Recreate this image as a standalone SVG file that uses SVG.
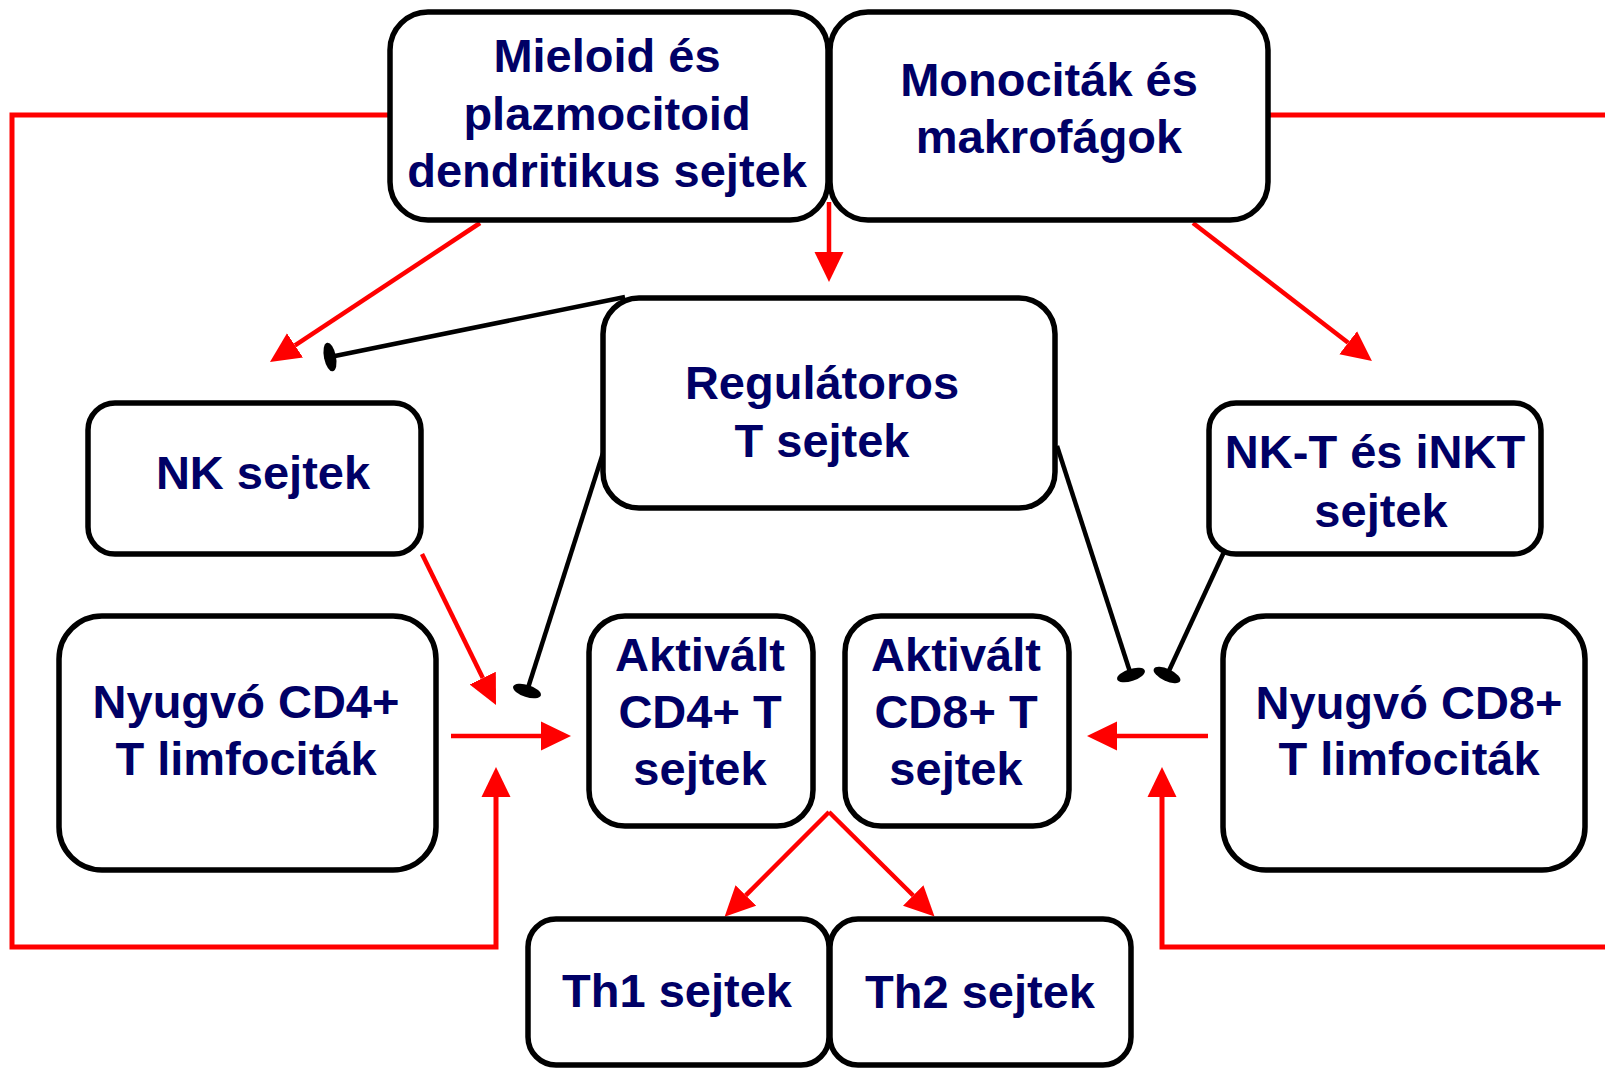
<svg xmlns="http://www.w3.org/2000/svg" width="1605" height="1068" viewBox="0 0 1605 1068">
<style>
.box{fill:#ffffff;stroke:#000000;stroke-width:5.5}
.t{font-family:"Liberation Sans",Arial,sans-serif;font-weight:bold;font-size:47px;fill:#000066;text-anchor:middle}
.red{fill:none;stroke:#ff0000;stroke-width:5}
.redA{fill:none;stroke:#ff0000;stroke-width:4.5;marker-end:url(#arr)}
.inh{fill:none;stroke:#000000;stroke-width:4.5;marker-end:url(#bar)}
</style>
<defs>
<marker id="arr" markerUnits="userSpaceOnUse" markerWidth="32" markerHeight="30" viewBox="0 -15 32 30" refX="0" refY="0" orient="auto">
<path d="M0,-14.5 L30,0 L0,14.5 Z" fill="#ff0000"/>
</marker>
<marker id="bar" markerUnits="userSpaceOnUse" markerWidth="14" markerHeight="30" viewBox="-7 -15 14 30" refX="0" refY="0" orient="auto">
<ellipse cx="0" cy="0" rx="6" ry="14.5" fill="#000000"/>
</marker>
</defs>
<g id="connectors">
<path class="red" d="M390,115 H12 V947 H496 V797"/>
<path d="M481.5,797 L496,767 L510.5,797 Z" fill="#ff0000"/>
<path class="red" d="M1268,115 H1612 V947 H1162 V797"/>
<path d="M1147.5,797 L1162,767 L1176.5,797 Z" fill="#ff0000"/>
<line class="redA" x1="829" y1="202" x2="829" y2="252"/>
<line class="redA" x1="480" y1="223" x2="295" y2="345.4"/>
<line class="redA" x1="1193" y1="223" x2="1348.2" y2="342.7"/>
<line class="redA" x1="422" y1="554" x2="482.8" y2="678.1"/>
<line class="redA" x1="451" y1="736" x2="541" y2="736"/>
<line class="redA" x1="1208" y1="736" x2="1117" y2="736"/>
<line class="redA" x1="829" y1="812" x2="745.8" y2="895.4"/>
<line class="redA" x1="829" y1="812" x2="913.2" y2="895.5"/>
<line class="inh" x1="625" y1="297" x2="330" y2="357"/>
<line class="inh" x1="604" y1="450" x2="527" y2="691"/>
<line class="inh" x1="1057" y1="446" x2="1131" y2="675"/>
<line class="inh" x1="1223.5" y1="553" x2="1167" y2="675"/>
</g>
<g id="mieloid"><rect class="box" x="390" y="12" width="438" height="208" rx="38"/>
<text class="t" x="607" y="72">Mieloid és</text><text class="t" x="607" y="130">plazmocitoid</text><text class="t" x="607" y="187">dendritikus sejtek</text></g>
<g id="monocitak"><rect class="box" x="830" y="12" width="438" height="208" rx="38"/>
<text class="t" x="1049" y="96">Monociták és</text><text class="t" x="1049" y="153">makrofágok</text></g>
<g id="regulatoros"><rect class="box" x="603" y="298" width="452" height="210" rx="36"/>
<text class="t" x="822" y="399">Regulátoros</text><text class="t" x="822" y="457">T sejtek</text></g>
<g id="nk"><rect class="box" x="88" y="403" width="333" height="151" rx="27"/>
<text class="t" x="263" y="489">NK sejtek</text></g>
<g id="nkt"><rect class="box" x="1209" y="403" width="332" height="151" rx="27"/>
<text class="t" x="1375" y="468">NK-T és iNKT</text><text class="t" x="1381" y="527">sejtek</text></g>
<g id="cd4rest"><rect class="box" x="59" y="616" width="377" height="254" rx="43"/>
<text class="t" x="246" y="718">Nyugvó CD4+</text><text class="t" x="246" y="775">T limfociták</text></g>
<g id="cd4act"><rect class="box" x="589" y="616" width="224" height="210" rx="36"/>
<text class="t" x="700" y="671">Aktivált</text><text class="t" x="700" y="728">CD4+ T</text><text class="t" x="700" y="785">sejtek</text></g>
<g id="cd8act"><rect class="box" x="845" y="616" width="224" height="210" rx="36"/>
<text class="t" x="956" y="671">Aktivált</text><text class="t" x="956" y="728">CD8+ T</text><text class="t" x="956" y="785">sejtek</text></g>
<g id="cd8rest"><rect class="box" x="1223" y="616" width="362" height="254" rx="43"/>
<text class="t" x="1409" y="719">Nyugvó CD8+</text><text class="t" x="1409" y="775">T limfociták</text></g>
<g id="th1"><rect class="box" x="528" y="919" width="301" height="146" rx="28"/>
<text class="t" x="677" y="1007">Th1 sejtek</text></g>
<g id="th2"><rect class="box" x="830" y="919" width="301" height="146" rx="28"/>
<text class="t" x="980" y="1008">Th2 sejtek</text></g>
</svg>
